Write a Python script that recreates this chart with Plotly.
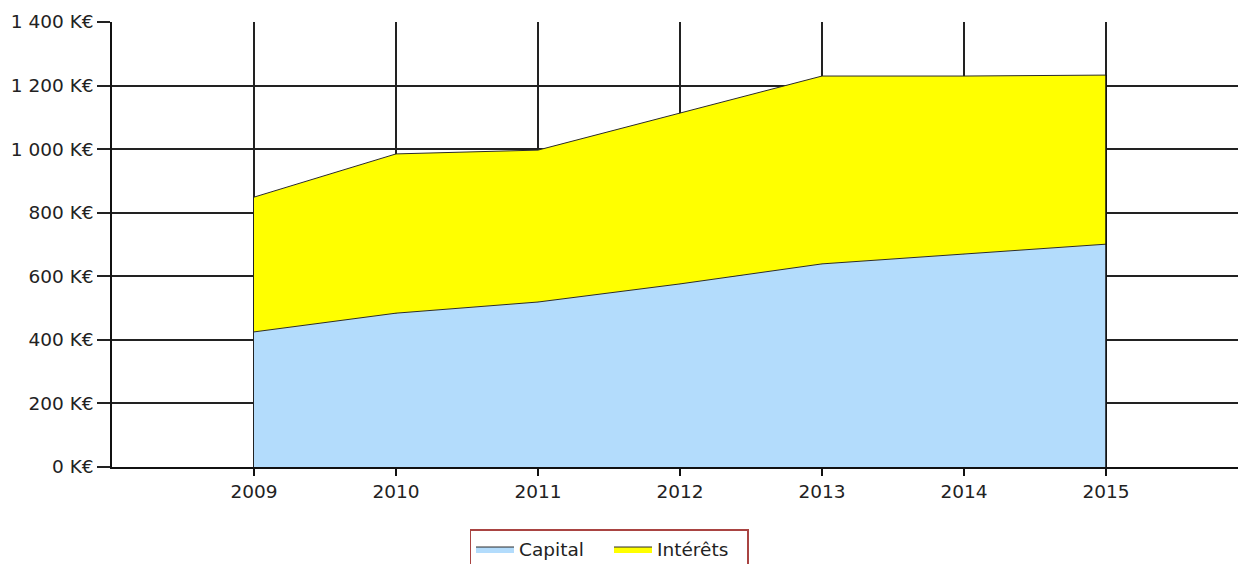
import plotly.graph_objects as go

years = [2009, 2010, 2011, 2012, 2013, 2014, 2015]
capital = [425, 484, 519, 576, 639, 670, 701]
interets = [424, 501, 478, 538, 591, 560, 532]
total = [c + i for c, i in zip(capital, interets)]

y_ticks = [0, 200, 400, 600, 800, 1000, 1200, 1400]
y_ticktext = ["0 K€", "200 K€", "400 K€", "600 K€", "800 K€", "1 000 K€", "1 200 K€", "1 400 K€"]

FONT = "DejaVu Sans"
edge = "#2b2b2b"

W, H = 1238, 564

fig = go.Figure()
fig.add_trace(go.Scatter(
    x=years, y=capital, name="Capital", mode="lines",
    line=dict(color=edge, width=1), fill="tozeroy", fillcolor="#b3dcfc",
))
fig.add_trace(go.Scatter(
    x=years, y=total, name="Intérêts", mode="lines",
    line=dict(color=edge, width=1), fill="tonexty", fillcolor="#ffff00",
))
# right edge outline of the stacked area
fig.add_trace(go.Scatter(
    x=[years[-1], years[-1]], y=[0, total[-1]], mode="lines",
    line=dict(color="#111", width=1.5), showlegend=False, hoverinfo="skip",
))

fig.update_layout(
    width=W, height=H,
    margin=dict(l=112, r=0, t=22, b=97),
    paper_bgcolor="white", plot_bgcolor="white",
    font=dict(family=FONT, size=18.5, color="#222"),
    showlegend=True,
    legend=dict(
        orientation="h", xref="container", yref="container",
        x=609 / W, xanchor="center", y=1 - 529 / H, yanchor="top",
        bordercolor="#a94442", borderwidth=1.5,
        font=dict(family=FONT, size=18.5, color="#222"),
        itemwidth=38, entrywidth=85, traceorder="normal",
    ),
)
fig.update_xaxes(
    range=[2008, 2008 + (W - 112) / 142], tickvals=years,
    showgrid=True, gridcolor="#222", gridwidth=1.5,
    showline=True, linecolor="#111", linewidth=1.5,
    ticks="outside", ticklen=7, tickcolor="#111", tickwidth=1.5,
    zeroline=False, fixedrange=True,
)
fig.update_yaxes(
    range=[0, 1400], tickvals=y_ticks, ticktext=y_ticktext,
    showgrid=True, gridcolor="#222", gridwidth=1.5,
    showline=True, linecolor="#111", linewidth=1.5,
    ticks="outside", ticklen=13, tickcolor="#222", tickwidth=1.5,
    zeroline=False, fixedrange=True,
)

fig.write_html(
    "out.html",
    config={"displayModeBar": False},
    post_script="document.body.style.margin='0';document.body.style.overflow='hidden';",
)
